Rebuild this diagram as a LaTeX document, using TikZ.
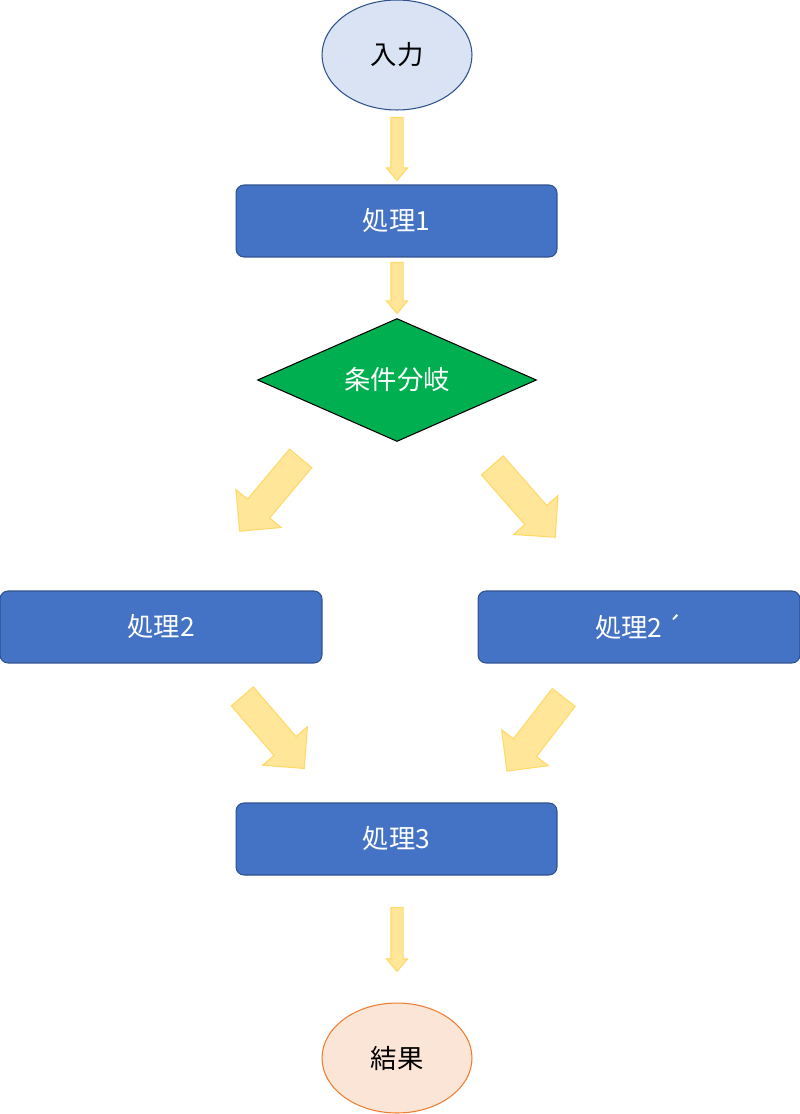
\documentclass[tikz,border=0pt]{standalone}
\usepackage{fontspec}
\setmainfont{Noto Sans CJK JP}
\usetikzlibrary{shapes.geometric,shapes.arrows}
\definecolor{procfill}{HTML}{4472C4}
\definecolor{procline}{HTML}{2F528F}
\definecolor{infill}{HTML}{DAE3F3}
\definecolor{outfill}{HTML}{FBE5D6}
\definecolor{outline}{HTML}{ED7D31}
\definecolor{condfill}{HTML}{00B050}
\definecolor{arrfill}{HTML}{FFE699}
\definecolor{arrline}{HTML}{FFD966}
\begin{document}
\begin{tikzpicture}[x=0.02cm,y=-0.02cm,line width=0.6pt,
    every node/.style={font=\fontsize{15}{18}\selectfont},
    proc/.style={rectangle,rounded corners=0.16cm,draw=procline,fill=procfill,text=white,minimum width=6.42cm,minimum height=1.44cm,inner sep=0pt},
    term/.style={ellipse,minimum width=3cm,minimum height=2.2cm,inner sep=0pt},
    downarr/.style={single arrow,draw=arrline,fill=arrfill,anchor=tail,rotate=-90,inner xsep=0pt,inner ysep=0.11cm,single arrow head extend=0.09cm,single arrow tip angle=80,single arrow head indent=0pt},
    diagarr/.style={single arrow,draw=arrline,fill=arrfill,anchor=tail,inner xsep=0pt,inner ysep=0.28cm,single arrow head extend=0.3cm,single arrow tip angle=90,single arrow head indent=0pt,minimum height=1.9cm}]
  \useasboundingbox (0,0) rectangle (800,1114);
  % flow nodes
  \node[term,draw=procline,fill=infill] (in) at (397,55) {入力};
  \node[proc] (p1) at (396.5,221) {処理1};
  \node[diamond,shape aspect=2.27,draw=black,fill=condfill,text=white,minimum width=5.58cm,minimum height=2.46cm,inner sep=0pt] (cond) at (397,380) {条件分岐};
  \node[proc,minimum width=6.44cm] (p2) at (161,627) {処理2};
  \node[proc,minimum width=6.44cm] (p2b) at (639,627) {処理2\,´};
  \node[proc] (p3) at (396.5,839) {処理3};
  \node[term,draw=outline,fill=outfill] (out) at (397,1058) {結果};
  % block arrows
  \node[downarr,minimum height=1.26cm] (a1) at (397,117) {};
  \node[downarr,minimum height=1.02cm] (a2) at (397,262) {};
  \node[diagarr,rotate=230] (a3) at (301,458) {};
  \node[diagarr,rotate=-48.8,minimum height=1.91cm] (a4) at (492,465) {};
  \node[diagarr,rotate=-49.3] (a5) at (242,696) {};
  \node[diagarr,rotate=232.4,minimum height=1.86cm] (a6) at (564,697) {};
  \node[downarr,minimum height=1.28cm] (a7) at (397,907) {};
\end{tikzpicture}
\end{document}
